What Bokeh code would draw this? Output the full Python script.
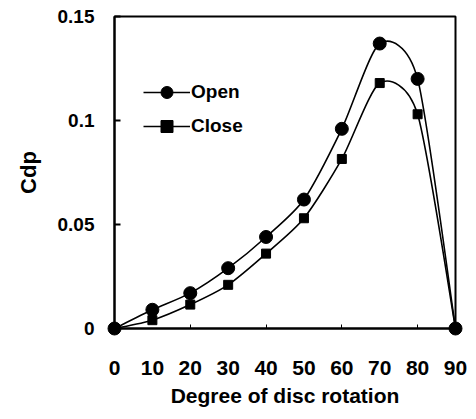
from bokeh.plotting import figure
from bokeh.models import FixedTicker, Legend, LegendItem, CustomJSTickFormatter
from bokeh.embed import file_html
from bokeh.resources import INLINE

degrees = [0, 10, 20, 30, 40, 50, 60, 70, 80, 90]
open_cdp = [0.0, 0.009, 0.017, 0.029, 0.044, 0.062, 0.096, 0.137, 0.120, 0.0]
close_cdp = [0.0, 0.004, 0.0115, 0.021, 0.036, 0.053, 0.0815, 0.118, 0.103, 0.0]
x_ticks = [0, 10, 20, 30, 40, 50, 60, 70, 80, 90]
x_minor = [20, 40, 60, 80]
y_ticks = [0, 0.05, 0.1, 0.15]
x_title = "Degree of disc rotation"
y_title = "Cdp"

FONT = "Liberation Sans"
K = 1.0 / 8.0  # curve tension


def smooth_segments(xs, ys):
    n = len(xs)
    out = dict(x0=[], y0=[], x1=[], y1=[], cx0=[], cy0=[], cx1=[], cy1=[])
    for i in range(n - 1):
        xm, ym = (xs[i - 1], ys[i - 1]) if i > 0 else (xs[i], ys[i])
        xp, yp = (xs[i + 2], ys[i + 2]) if i + 2 < n else (xs[i + 1], ys[i + 1])
        out["x0"].append(xs[i]); out["y0"].append(ys[i])
        out["x1"].append(xs[i + 1]); out["y1"].append(ys[i + 1])
        out["cx0"].append(xs[i] + (xs[i + 1] - xm) * K)
        out["cy0"].append(ys[i] + (ys[i + 1] - ym) * K)
        out["cx1"].append(xs[i + 1] - (xp - xs[i]) * K)
        out["cy1"].append(ys[i + 1] - (yp - ys[i]) * K)
    return out


p = figure(width=468, height=411, x_range=(0, 90), y_range=(0, 0.15),
           output_backend="svg", toolbar_location=None,
           min_border_left=114, min_border_right=13, min_border_top=16, min_border_bottom=83)
p.grid.visible = False
p.outline_line_color = "black"
p.outline_line_width = 2
p.background_fill_color = "white"
p.border_fill_color = "white"

# x axis
p.xaxis.ticker = FixedTicker(ticks=x_ticks, minor_ticks=x_minor)
p.xaxis.major_tick_line_color = None
p.xaxis.minor_tick_in = 4
p.xaxis.minor_tick_out = 0
p.xaxis.minor_tick_line_color = "black"
p.xaxis.axis_line_width = 2
p.xaxis.axis_line_color = "black"
p.xaxis.major_label_text_font = FONT
p.xaxis.major_label_text_font_style = "bold"
p.xaxis.major_label_text_font_size = "21px"
p.xaxis.major_label_text_color = "black"
p.xaxis.major_label_standoff = 26
p.xaxis.axis_label = x_title
p.xaxis.axis_label_text_font = FONT
p.xaxis.axis_label_text_font_style = "bold"
p.xaxis.axis_label_text_font_size = "21px"
p.xaxis.axis_label_text_color = "black"
p.xaxis.axis_label_standoff = 6

# y axis
p.yaxis.ticker = FixedTicker(ticks=y_ticks)
p.yaxis.formatter = CustomJSTickFormatter(code="return tick.toString();")
p.yaxis.major_tick_in = 6
p.yaxis.major_tick_out = 0
p.yaxis.major_tick_line_width = 2
p.yaxis.minor_tick_line_color = None
p.yaxis.axis_line_width = 2
p.yaxis.axis_line_color = "black"
p.yaxis.major_label_text_font = FONT
p.yaxis.major_label_text_font_style = "bold"
p.yaxis.major_label_text_font_size = "19px"
p.yaxis.major_label_text_color = "black"
p.yaxis.major_label_standoff = 20
p.yaxis.axis_label = y_title
p.yaxis.axis_label_text_font = FONT
p.yaxis.axis_label_text_font_style = "bold"
p.yaxis.axis_label_text_font_size = "22px"
p.yaxis.axis_label_text_color = "black"
p.yaxis.axis_label_standoff = 14

items = []
for name, vals, marker, size in [("Close", close_cdp, "square", 9), ("Open", open_cdp, "circle", 13)]:
    seg = smooth_segments(degrees, vals)
    b = p.bezier(source=seg, x0="x0", y0="y0", x1="x1", y1="y1",
                 cx0="cx0", cy0="cy0", cx1="cx1", cy1="cy1",
                 line_color="black", line_width=1.6)
    s = p.scatter(degrees, vals, marker=marker, size=size,
                  fill_color="black", line_color="black", level="overlay")
    items.append(LegendItem(label=name, renderers=[b, s]))

legend = Legend(items=items[::-1], location=(29, 187), orientation="vertical")
legend.background_fill_alpha = 0
legend.border_line_color = None
legend.padding = 0
legend.margin = 0
legend.spacing = 4
legend.glyph_width = 47
legend.glyph_height = 30
legend.label_height = 30
legend.label_standoff = 1
legend.label_text_font = FONT
legend.label_text_font_style = "bold"
legend.label_text_font_size = "19px"
legend.label_text_color = "black"
p.add_layout(legend, "center")

open("out.html", "w").write(file_html(p, INLINE))
